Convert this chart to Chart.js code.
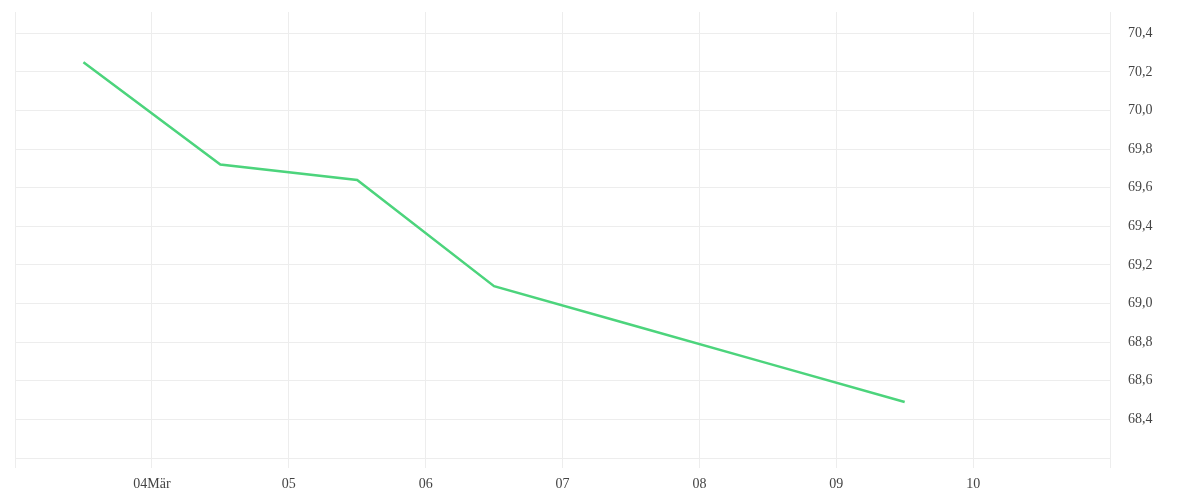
<!DOCTYPE html>
<html>
<head>
<meta charset="utf-8">
<script src="https://cdn.jsdelivr.net/npm/chart.js@4/dist/chart.umd.min.js"></script>
<style>
    html, body { margin: 0; padding: 0; background: #fff; }
    #wrap { width: 1200px; height: 500px; }
</style>
</head>
<body>
<div id="wrap"><canvas id="chart"></canvas></div>
<script>
// Days (x position, data sits at noon of each day)
const days = [3.5, 4.5, 5.5, 6.5, 7.5, 8.5, 9.5];
const values = [70.25, 69.72, 69.64, 69.09, 68.89, 68.69, 68.49];

// Tick positions and labels
const xTicks = [3, 4, 5, 6, 7, 8, 9, 10, 11];
const xLabels = ["", "04Mär", "05", "06", "07", "08", "09", "10", ""];
const yTicks = [68.2, 68.4, 68.6, 68.8, 69.0, 69.2, 69.4, 69.6, 69.8, 70.0, 70.2, 70.4];

const gridColor = "#ededed";
const tickFont = { family: "Liberation Serif", size: 14 };

const ctx = document.getElementById("chart").getContext("2d");

new Chart(ctx, {
    type: "line",
    data: {
        datasets: [
            {
                data: days.map((d, i) => ({ x: d, y: values[i] })),
                borderColor: "#4cd47c",
                borderWidth: 2.5,
                pointRadius: 0,
                tension: 0,
                fill: false,
            },
        ],
    },
    options: {
        responsive: true,
        maintainAspectRatio: false,
        animation: false,
        layout: { padding: { left: 15, top: 12, right: 0, bottom: 0 } },
        plugins: {
            legend: { display: false },
            tooltip: { enabled: false },
        },
        scales: {
            x: {
                type: "linear",
                min: 3,
                max: 11,
                afterBuildTicks: (scale) => {
                    scale.ticks = xTicks.map((v) => ({ value: v }));
                },
                afterFit: (scale) => {
                    scale.height = 42;
                    scale.paddingLeft = 0;
                    scale.paddingRight = 0;
                },
                grid: { color: gridColor, tickLength: 10, drawTicks: true },
                border: { color: gridColor },
                ticks: {
                    autoSkip: false,
                    maxRotation: 0,
                    padding: 8,
                    color: "#444",
                    font: tickFont,
                    callback: (v) => {
                        const i = xTicks.indexOf(v);
                        return i >= 0 ? xLabels[i] : "";
                    },
                },
            },
            y: {
                position: "right",
                min: 68.2,
                max: 70.51,
                afterBuildTicks: (scale) => {
                    scale.ticks = yTicks.map((v) => ({ value: v }));
                },
                afterFit: (scale) => {
                    scale.width = 90;
                    scale.paddingTop = 0;
                    scale.paddingBottom = 0;
                },
                grid: { color: gridColor, drawTicks: false },
                border: { color: gridColor },
                ticks: {
                    padding: 18,
                    color: "#444",
                    font: tickFont,
                    callback: (v) => (Math.abs(v - 68.2) < 0.001 ? "" : v.toFixed(1).replace(".", ",")),
                },
            },
        },
    },
});
</script>
</body>
</html>
